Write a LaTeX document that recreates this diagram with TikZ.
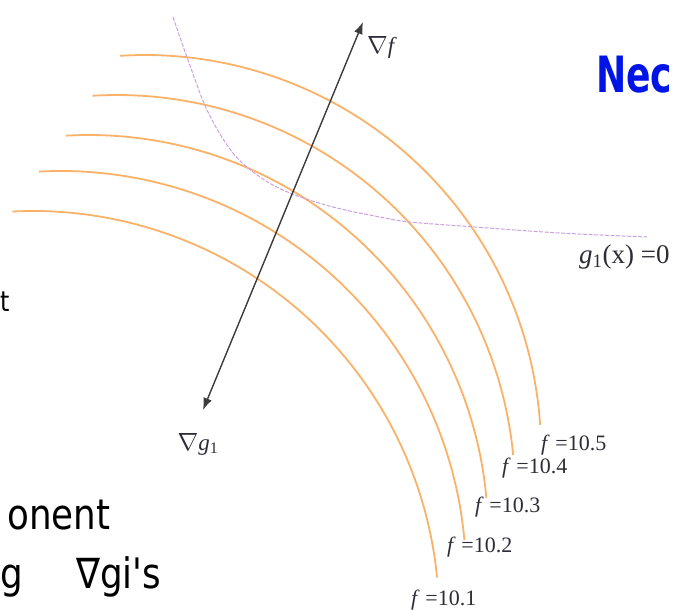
\documentclass[tikz,border=0pt]{standalone}
\usepackage{fontspec}
\setmainfont{Liberation Serif}
\newfontfamily\handfont{DejaVu Sans}
\usetikzlibrary{arrows.meta}
\definecolor{arcorange}{RGB}{250,178,105}
\definecolor{gpurple}{RGB}{205,160,222}
\definecolor{arrowgray}{RGB}{60,60,60}
\definecolor{inkblue}{RGB}{0,20,230}
\definecolor{labelink}{RGB}{45,45,55}
\tikzset{
  levelarc/.style={draw=arcorange, line width=1.8pt},
  constraint/.style={draw=gpurple, line width=1pt, dash pattern=on 4pt off 1.5pt},
  gradarrow/.style={draw=arrowgray, line width=1.4pt, {Latex[length=12pt,width=9pt]}-{Latex[length=12pt,width=9pt]}},
  flabel/.style={anchor=west, inner sep=0pt, text=labelink, font=\fontsize{22}{26}\selectfont},
  glabel/.style={inner sep=0pt, text=labelink, font=\fontsize{23}{27}\selectfont},
  hand/.style={inner sep=0pt, font=\handfont\fontsize{42}{48}\selectfont, xscale=0.85},
}
\begin{document}
\begin{tikzpicture}[x=1pt,y=-1pt]
\useasboundingbox[fill=white] (0,0) rectangle (677,610);
% level curves of f
\foreach \cx/\cy/\rr/\aa/\ab in {145/451/396/93.6/3.8, 117/493/398/93.5/5.5, 89/534/399/93.3/5.2, 61/576/405/93.1/5.1, 33/617/406/92.9/5.6}
  \draw[levelarc] plot[domain=\aa:\ab, samples=90, smooth] ({\cx+\rr*cos(\x)},{\cy-\rr*sin(\x)});
% constraint g1(x)=0
\draw[constraint] plot[smooth, tension=0.6] coordinates {(173,17) (188,60) (208,112) (233,153) (260,177) (290,193) (333,207) (380,217) (410,222) (475,227) (560,233) (647,237)};
% gradient arrow
\coordinate (tipF) at (363,22);
\coordinate (tipG) at (203,410);
\draw[gradarrow] (tipG) -- (tipF);
% labels
\node[glabel] (nablaf) at (382,47) {$\nabla$\textit{f}};
\node[glabel] (nablag) at (198,444) {$\nabla$\textit{g}\textsubscript{1}};
\node[glabel, anchor=west, font=\fontsize{27}{31}\selectfont] (gzero) at (579,257) {\textit{g}\textsubscript{1}(x) =0};
\node[flabel] (f5) at (541,445) {\textit{f} =10.5};
\node[flabel] (f4) at (502,468) {\textit{f} =10.4};
\node[flabel] (f3) at (475,507) {\textit{f} =10.3};
\node[flabel] (f2) at (447,547) {\textit{f} =10.2};
\node[flabel] (f1) at (411,600) {\textit{f} =10.1};
% handwritten notes
\node[hand, text=inkblue, anchor=south west, font=\handfont\bfseries\fontsize{50}{54}\selectfont, xscale=0.85] (nec) at (596,93) {Nec};
\node[hand, anchor=base west, font=\handfont\fontsize{28}{32}\selectfont] (tfrag) at (0,311) {t};
\node[hand, anchor=base west] (onent) at (7,529) {onent};
\node[hand, anchor=base west] (gfrag) at (0,588) {g};
\node[hand, anchor=base west] (nablagi) at (76,588) {∇gi's};
\end{tikzpicture}
\end{document}
